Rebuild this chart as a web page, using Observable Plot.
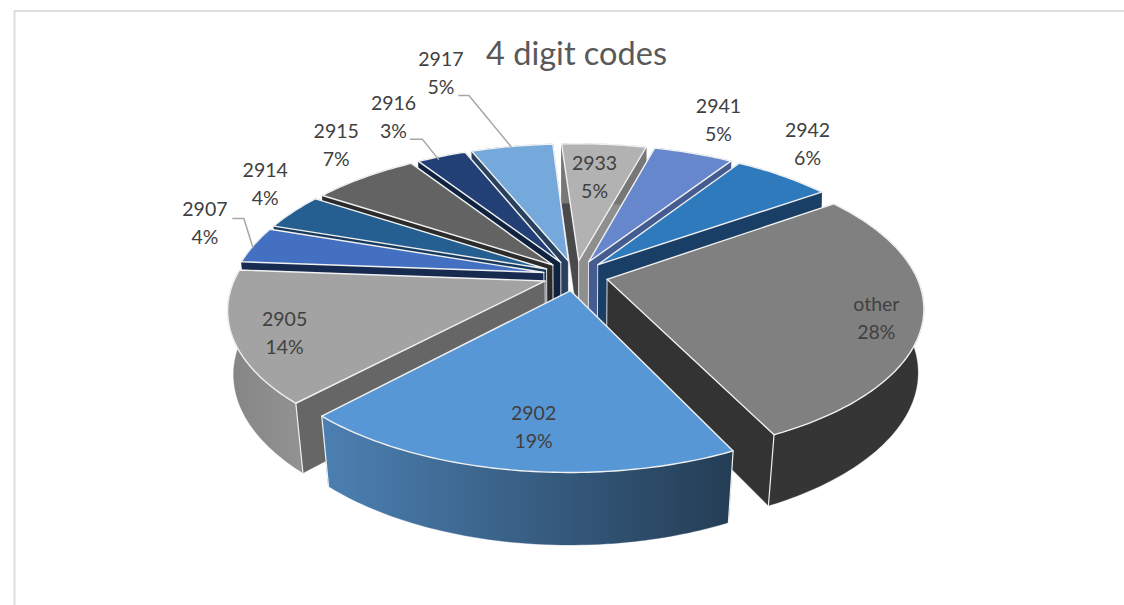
<!DOCTYPE html>
<html>
<head>
<meta charset="utf-8">
<script src="https://cdn.jsdelivr.net/npm/d3@7"></script>
<script src="https://cdn.jsdelivr.net/npm/@observablehq/plot@0.6"></script>
<style>html,body{margin:0;padding:0;background:#fff}svg{display:block}</style>
</head>
<body>
<div id="chart"></div>
<script>
// ---- data (clockwise, starting at the top of the pie) ----
const codes  = ["2933","2941","2942","other","2902","2905","2907","2914","2915","2916","2917"];
const shares = [5.25,4.94,6.06,27.64,19.08,14.28,4,4,6.61,3.06,5.08];

// ---- styles ----
const topColors  = ["#b2b2b2","#6787cc","#2e7abd","#808080","#5897d5","#a3a3a3","#4470c2","#255e91","#636363","#234076","#75a9db"];
const startWalls = ["#4a4a4a","#445c8f","#1a3f66","#333333","#2f5475","#666666","#172a50","#173a5c","#2b2b2b","#0f2340","#27415f"];
const endWalls   = ["#8f8f8f","#445c8f","#1a3f66","#333333","#2f5475","#666666","#172a50","#173a5c","#2b2b2b","#0f2340","#27415f"];
const rimLeft    = ["#777777","#445c8f","#1a3f66","#353535","#4c80b2","#858585","#172a50","#173a5c","#2b2b2b","#0f2340","#27415f"];
const rimRight   = ["#777777","#445c8f","#1a3f66","#353535","#243d55","#929292","#172a50","#173a5c","#2b2b2b","#0f2340","#27415f"];

// ---- layout: label offsets from the slice's rim midpoint, leader offsets ----
const labelDx = [-9.5,25,25,-47,22,52,-49,-28,-28,-48,-71];
const labelDy = [30.5,-35.5,-34,-1,-44.5,-6,-23.5,-29.5,-34.5,-41.5,-75];
const leaders = {
  "2907": [[-1,2.5],[-10,-26.5],[-21,-26.5]],
  "2916": [[-3,3],[-19,-17],[-31,-17]],
  "2917": [[-1,0],[-43,-51],[-53,-51]]
};

// ---- camera ----
const width = 1124, height = 605;
const cx = 575, cy = 275, R = 309, tiltR = 143, persp = 0.18, explode = 0.105, startDeg = -3.7;
const rad = Math.PI / 180;
const total = d3.sum(shares);

function project(u, v, bottom) {
  const w = 1 - persp * v;
  const x = cx + R * u / w, y = cy + tiltR * v / w;
  if (!bottom) return {x, y};
  const sx = 0.986 - 0.00009 * (y - cy);
  return {x: cx + (x - cx) * sx, y: cy + (y - cy) * 1.04 + 64.6};
}

let acc = startDeg;
const slices = codes.map((code, i) => {
  const a0 = acc, a1 = acc + shares[i] / total * 360;
  acc = a1;
  const mid = (a0 + a1) / 2;
  const du = explode * Math.sin(mid * rad), dv = -explode * Math.cos(mid * rad);
  const pt = (deg, r, b) => project(du + r * Math.sin(deg * rad), dv - r * Math.cos(deg * rad), b);
  const angles = d3.range(a0, a1, 1).concat([a1]);
  const anchor = pt(mid, 1, false);
  return {i, code, share: shares[i], a0, a1, mid, pt, angles, anchor, depth: -Math.cos(mid * rad)};
});

const edge = "#f1f1f1";
const area = (pts, fill) => Plot.line(pts, {x: "x", y: "y", fill, stroke: fill, strokeWidth: 0.4});
const seg = (pts, w) => Plot.line(pts, {x: "x", y: "y", stroke: edge, strokeWidth: w});

const pieMarks = d3.sort(slices, s => s.depth).flatMap(s => {
  const {pt, angles, a0, a1, i} = s;
  const apexT = pt(0, 0, false), apexB = pt(0, 0, true);
  const rimT = angles.map(a => pt(a, 1, false));
  const rimB = angles.map(a => pt(a, 1, true));
  const corners = s.depth > 0
    ? [seg([pt(a0, 1, false), pt(a0, 1, true)], 1.2), seg([pt(a1, 1, false), pt(a1, 1, true)], 1.2)]
    : [];
  return [
    area([apexT, pt(a0, 1, false), pt(a0, 1, true), apexB], startWalls[i]),
    area([apexT, pt(a1, 1, false), pt(a1, 1, true), apexB], endWalls[i]),
    area([...rimT, ...rimB.slice().reverse()], `url(#rim${i})`),
    ...corners,
    seg([apexT, apexB], 0.9),
    Plot.line([apexT, ...rimT, apexT], {x: "x", y: "y", fill: topColors[i], stroke: edge, strokeWidth: 1.4, strokeLinejoin: "round"})
  ];
});

const leaderMarks = slices.filter(s => leaders[s.code]).map(s =>
  Plot.line(leaders[s.code].map(([dx, dy]) => ({x: s.anchor.x + dx, y: s.anchor.y + dy})),
    {x: "x", y: "y", stroke: "#a6a6a6", strokeWidth: 1.5}));

const labelFont = "Lato, 'Open Sans', sans-serif";

const chart = Plot.plot({
  width, height,
  margin: 0,
  x: {domain: [0, width], range: [0, width], axis: null},
  y: {domain: [0, height], range: [0, height], axis: null},
  style: {background: "#fff"},
  marks: [
    Plot.ruleY([10.5], {x1: 14, x2: width, stroke: "#dedede", strokeWidth: 2}),
    Plot.ruleX([14], {y1: 10, y2: height, stroke: "#dedede", strokeWidth: 2}),
    ...pieMarks,
    ...leaderMarks,
    Plot.text(slices, {
      x: s => s.anchor.x + labelDx[s.i],
      y: s => s.anchor.y + labelDy[s.i],
      text: s => `${s.code}\n${Math.round(s.share)}%`,
      fontFamily: labelFont, fontSize: 19.5, lineHeight: 1.44, fill: "#404040", textAnchor: "middle"
    }),
    Plot.text(["4 digit codes"], {
      frameAnchor: "top", dx: 14, dy: 41,
      fontFamily: labelFont, fontSize: 32.5, fill: "#595959"
    })
  ]
});

const defs = d3.select(chart).insert("defs", ":first-child");
codes.forEach((c, i) => {
  const g = defs.append("linearGradient").attr("id", `rim${i}`);
  g.append("stop").attr("offset", "0%").attr("stop-color", rimLeft[i]);
  g.append("stop").attr("offset", "100%").attr("stop-color", rimRight[i]);
});
document.getElementById("chart").append(chart);
</script>
</body>
</html>
